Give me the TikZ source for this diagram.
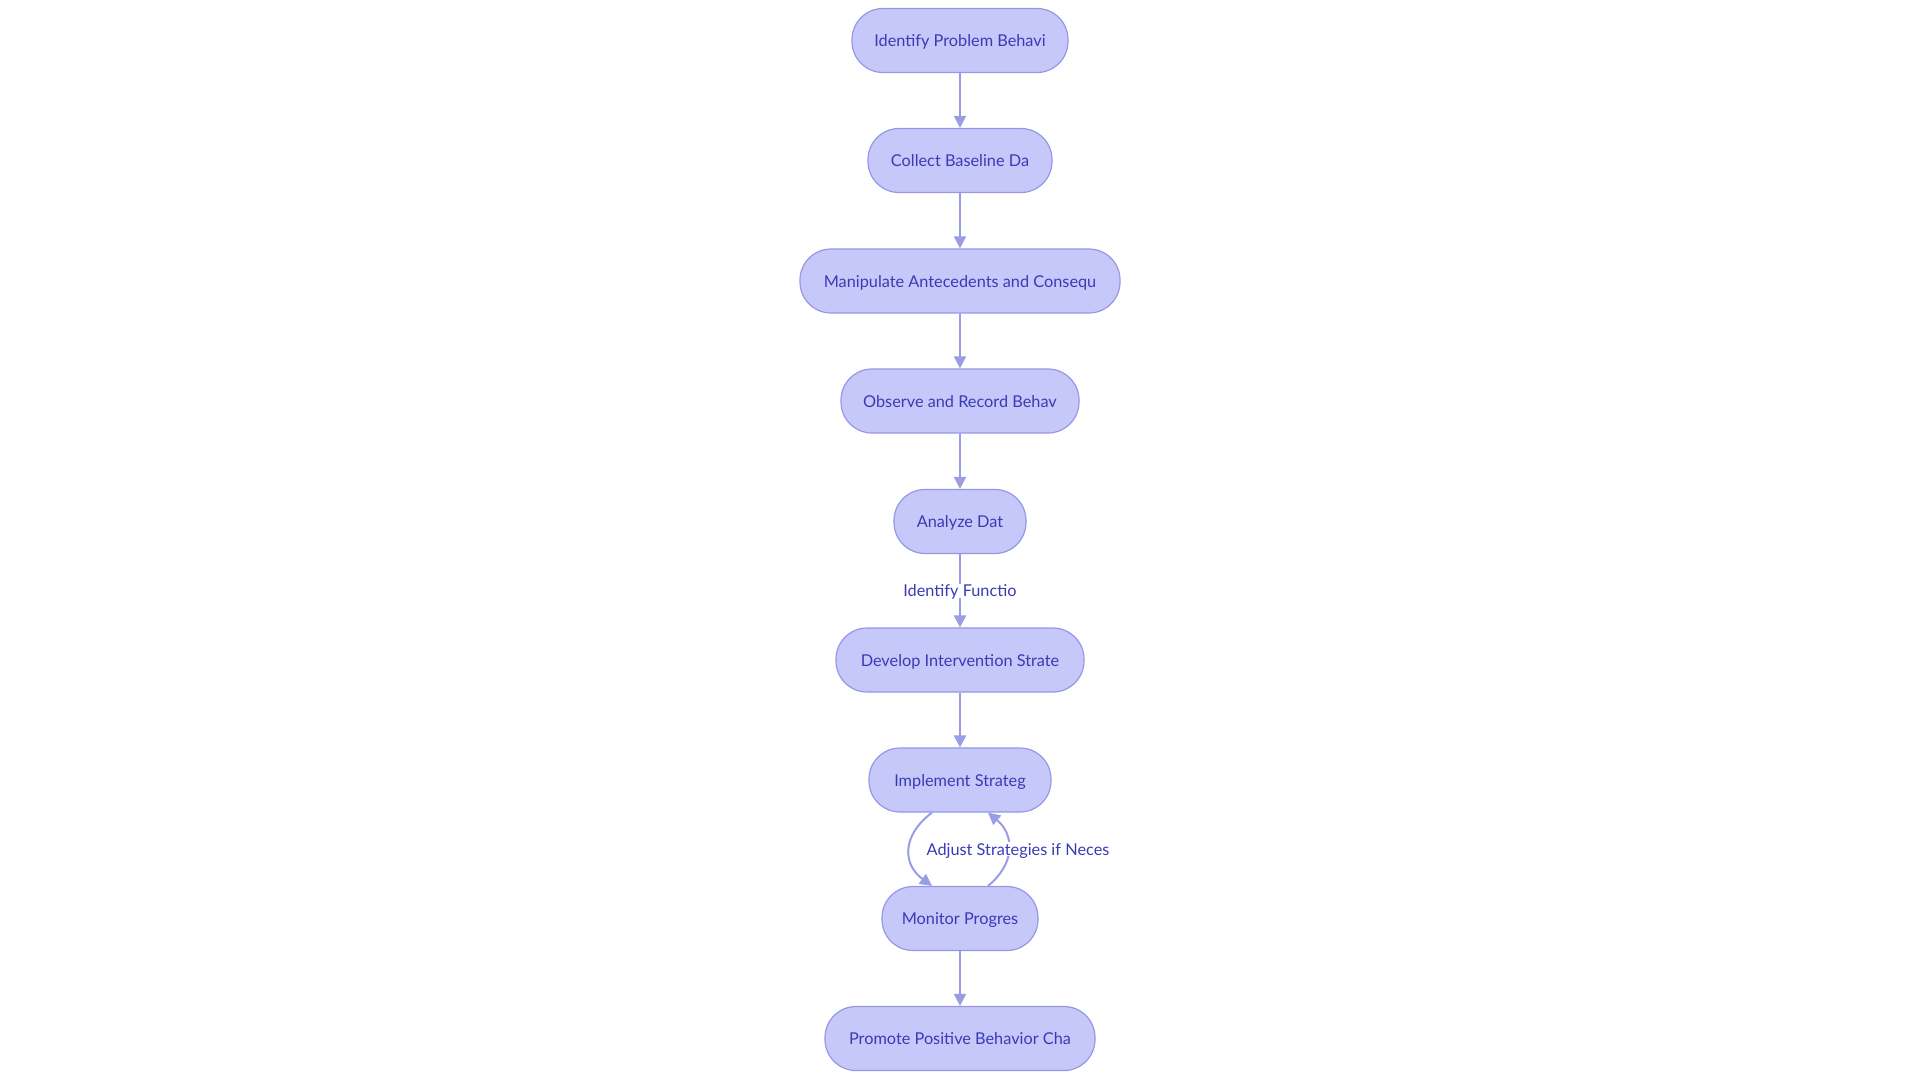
\documentclass[tikz,border=0pt]{standalone}
\usepackage{fontspec}
\setmainfont{Lato}
\usetikzlibrary{arrows.meta}
\definecolor{nodefill}{RGB}{198,200,250}
\definecolor{nodeline}{RGB}{150,152,228}
\definecolor{edgecol}{RGB}{154,156,230}
\definecolor{txtcol}{RGB}{58,58,182}
\tikzset{
  stepbox/.style={rectangle, rounded corners=31pt, draw=nodeline, line width=1.2pt,
    fill=nodefill, minimum height=64pt, inner sep=0pt, text=txtcol,
    text height=12pt, text depth=0pt,
    font=\fontsize{16.3pt}{19pt}\selectfont},
  flow/.style={draw=edgecol, line width=2pt, -{Triangle[width=12pt,length=12pt]}},
  elabel/.style={fill=white, text=txtcol, inner sep=1pt,
    text height=12pt, text depth=0pt,
    font=\fontsize{16.3pt}{19pt}\selectfont}
}
\begin{document}
\begin{tikzpicture}[x=1pt,y=-1pt]
\useasboundingbox (0,0) rectangle (1920,1080);
\node[stepbox, minimum width=216pt] (n1) at (960,40.5) {Identify Problem Behavi};
\node[stepbox, minimum width=184pt] (n2) at (960,160.5) {Collect Baseline Da};
\node[stepbox, minimum width=320pt] (n3) at (960,281) {Manipulate Antecedents and Consequ};
\node[stepbox, minimum width=238pt] (n4) at (960,401) {Observe and Record Behav};
\node[stepbox, minimum width=132pt] (n5) at (960,521.5) {Analyze Dat};
\node[stepbox, minimum width=248pt] (n6) at (960,660) {Develop Intervention Strate};
\node[stepbox, minimum width=182pt] (n7) at (960,780) {Implement Strateg};
\node[stepbox, minimum width=156pt] (n8) at (960,918.5) {Monitor Progres};
\node[stepbox, minimum width=270pt] (n9) at (960,1038.5) {Promote Positive Behavior Cha};

\draw[flow] (n1) -- (n2);
\draw[flow] (n2) -- (n3);
\draw[flow] (n3) -- (n4);
\draw[flow] (n4) -- (n5);
\draw[flow] (n5) -- node[elabel] (l1) {Identify Functio} (n6);
\draw[flow] (n6) -- (n7);
\draw[flow] ([xshift=-28pt]n7.south) .. controls (902,835) and (902,864) .. ([xshift=-28pt]n8.north);
\draw[flow] ([xshift=28pt]n8.north) .. controls (1015,864) and (1015,835) .. ([xshift=28pt]n7.south);
\node[elabel] (l2) at (1018,849) {Adjust Strategies if Neces};
\draw[flow] (n8) -- (n9);
\end{tikzpicture}
\end{document}
